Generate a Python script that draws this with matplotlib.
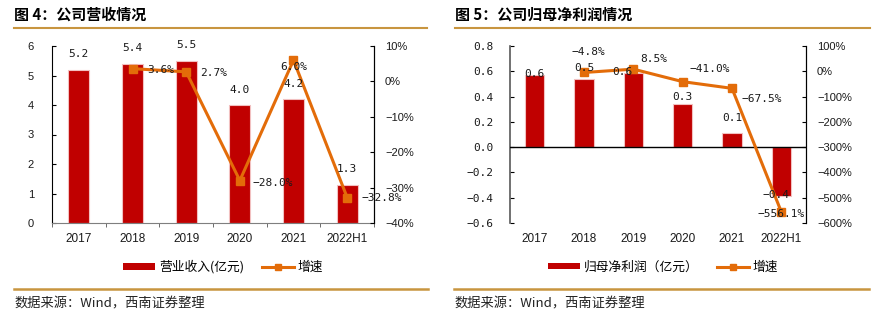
import matplotlib
matplotlib.use("Agg")
import matplotlib.pyplot as plt
from matplotlib.patches import Patch
from matplotlib.lines import Line2D

# --- data ---
years = ["2017", "2018", "2019", "2020", "2021", "2022H1"]
revenue = [5.2, 5.4, 5.5, 4.0, 4.2, 1.3]            # 营业收入（亿元）
revenue_growth = [None, 3.6, 2.7, -28.0, 6.0, -32.8]  # 增速 %
net_profit = [0.57, 0.54, 0.59, 0.34, 0.11, -0.39]   # 归母净利润（亿元）
profit_growth = [None, -4.8, 8.5, -41.0, -67.5, -556.1]

# --- styles ---
BAR = "#C00000"
BAR_EDGE = "#F2C0C0"
LINE = "#E36C09"
GOLD = "#C8953F"
TXT = "#1a1a1a"
CJK = ["Noto Sans CJK SC", "DejaVu Sans"]
SANS = "Liberation Sans"
MONO = "DejaVu Sans Mono"

# label offsets in points (dx, dy, ha)
rev_bar_off = [(0, 11, "center")] * 6
rev_grow_off = [None, (10.5, -1.2, "left"), (10, -0.7, "left"), (9.4, -2, "left"),
                (0, -5, "center"), (10, 0, "left")]
np_bar_off = [(0, 0.7, "center"), (0, 8, "center"), (-8, 0.7, "center"),
              (0, 5, "center"), (0, 11, "center"), (-3.6, 1.4, "center")]
np_grow_off = [None, (3, 15, "center"), (5, 7, "left"), (5, 9, "left"),
               (7, -7.6, "left"), (0, -1.4, "center")]


def fmt_num(v, nd=1, pct=False):
    s = f"{v:.{nd}f}" + ("%" if pct else "")
    return s.replace("-", "\u2212")


def panel(fig, rect, bars, growth, ylim, yticks, y2lim, y2ticks, ydec,
          bar_off, grow_off, zero_line):
    ax = fig.add_axes(rect)
    x = list(range(len(years)))
    ax.bar(x, bars, width=0.39, color=BAR, edgecolor=BAR_EDGE, linewidth=0.8, zorder=2)
    ax.set_xlim(-0.5, len(years) - 0.5)
    ax.set_ylim(*ylim)
    ax.set_yticks(yticks)
    ax.set_yticklabels([fmt_num(t, ydec) for t in yticks],
                       fontfamily=MONO if ydec else SANS, fontsize=8, color=TXT)
    ax.set_xticks(x)
    ax.set_xticklabels(years, fontfamily=SANS, fontsize=8.5, color=TXT)
    ax.spines["top"].set_visible(False)
    ax.tick_params(axis="y", direction="in", length=3, pad=13 if not ydec else 12)

    ax2 = ax.twinx()
    ax2.set_ylim(*y2lim)
    ax2.set_yticks(y2ticks)
    ax2.set_yticklabels([fmt_num(t, 0, pct=True) for t in y2ticks],
                        fontfamily=SANS, fontsize=8, color=TXT)
    ax2.tick_params(axis="y", direction="in", length=3, pad=8)
    for s in ("top", "bottom", "left"):
        ax2.spines[s].set_visible(False)
    ax2.spines["right"].set_color("black")

    gx = [i for i, g in enumerate(growth) if g is not None]
    gy = [g for g in growth if g is not None]
    ax2.plot(gx, gy, color=LINE, lw=2.2, marker="s", markersize=6, zorder=3)

    if zero_line:
        ax.spines["bottom"].set_visible(False)
        ax.spines["left"].set_color("#595959")
        ax.spines["left"].set_linewidth(1.2)
        ax.axhline(0, color="black", lw=1, zorder=3)
        ax.tick_params(axis="x", length=0, pad=7.5)
    else:
        ax.spines["bottom"].set_color("#7f7f7f")
        ax.spines["left"].set_color("black")
        ax.set_xticks([i - 0.5 for i in range(len(years) + 1)], minor=True)
        ax.tick_params(axis="x", which="major", length=0, pad=7.5)
        ax.tick_params(axis="x", which="minor", direction="out", length=3,
                       color="#555555")

    # labels sit on the twin axes so they draw over the line
    for i, v in enumerate(bars):
        dx, dy, ha = bar_off[i]
        ax2.annotate(fmt_num(v), (i, v), xycoords=ax.transData,
                     xytext=(dx, dy), textcoords="offset points",
                     ha=ha, va="center", fontfamily=MONO, fontsize=8,
                     color=TXT, zorder=5)
    for i, g in enumerate(growth):
        if g is None:
            continue
        dx, dy, ha = grow_off[i]
        ax2.annotate(fmt_num(g, pct=True), (i, g), xytext=(dx, dy),
                     textcoords="offset points", ha=ha, va="center",
                     fontfamily=MONO, fontsize=8, color=TXT, zorder=5)
    return ax, ax2


fig = plt.figure(figsize=(8.77, 3.21), dpi=100)
W, H = 877, 321


def fx(px):
    return px / W


def fy(py):
    return 1 - py / H


# left: 营收
panel(fig, [fx(52), fy(223), fx(322), 177 / H], revenue, revenue_growth,
      (0, 6), list(range(0, 7)), (-40, 10), list(range(-40, 11, 10)), 0,
      rev_bar_off, rev_grow_off, zero_line=False)

# right: 归母净利润
panel(fig, [fx(510), fy(223), fx(296), 177 / H], net_profit, profit_growth,
      (-0.6, 0.8), [-0.6, -0.4, -0.2, 0.0, 0.2, 0.4, 0.6, 0.8],
      (-600, 100), list(range(-600, 101, 100)), 1,
      np_bar_off, np_grow_off, zero_line=True)

# titles and rules
fig.text(fx(14), fy(15), "图 4：公司营收情况", fontfamily=CJK, fontsize=10.8,
         fontweight="bold", va="center", ha="left")
fig.text(fx(455), fy(15), "图 5：公司归母净利润情况", fontfamily=CJK, fontsize=10.8,
         fontweight="bold", va="center", ha="left")
for x0, x1 in ((14, 427), (455, 870)):
    fig.add_artist(Line2D([fx(x0), fx(x1)], [fy(28), fy(28)], color=GOLD, lw=1.5))
for x0, x1 in ((14, 428), (454, 869)):
    fig.add_artist(Line2D([fx(x0), fx(x1)], [fy(289), fy(289)], color=GOLD, lw=1.8))

for x0 in (14, 454):
    fig.text(fx(x0), fy(304), "数据来源：Wind，西南证券整理", fontfamily=CJK,
             fontsize=9.5, color="#222222", va="center", ha="left")

# legends
for cx, name in ((223, "营业收入(亿元)"), (663, "归母净利润（亿元）")):
    handles = [Patch(facecolor=BAR, edgecolor="none"),
               Line2D([], [], color=LINE, lw=2.2, marker="s", markersize=5)]
    fig.legend(handles, [name, "增速"], loc="center", bbox_to_anchor=(fx(cx), fy(267)),
               ncol=2, frameon=False, prop={"family": CJK, "size": 9.2},
               handlelength=2.5, handleheight=0.45, handletextpad=0.3,
               columnspacing=1.4, borderpad=0)

fig.savefig("out.png", dpi=100)
